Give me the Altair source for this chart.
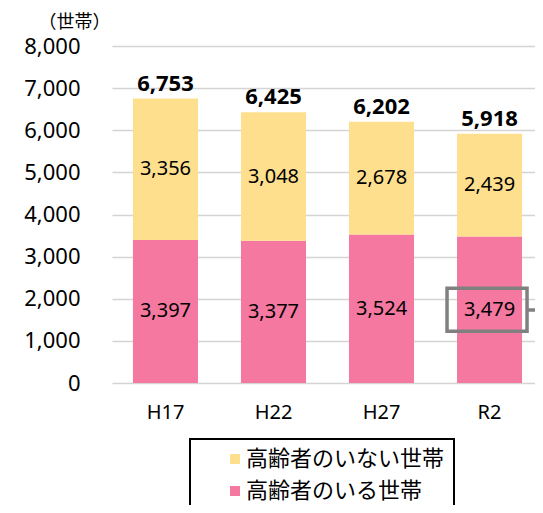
import altair as alt
import pandas as pd

years = ["H17", "H22", "H27", "R2"]
with_elderly = [3397, 3377, 3524, 3479]
without_elderly = [3356, 3048, 2678, 2439]
totals = [6753, 6425, 6202, 5918]
series_names = ["高齢者のいない世帯", "高齢者のいる世帯"]
series_colors = ["#FEDF8E", "#F478A0"]
y_ticks = [0, 1000, 2000, 3000, 4000, 5000, 6000, 7000, 8000]
highlight_year = ["R2"]
highlight_lo = [1230]
highlight_hi = [2250]
connector_value = [1733]

FONT = "Noto Sans, Noto Sans CJK JP"

rows = []
for i, yr in enumerate(years):
    rows.append({"year": yr, "series": series_names[1], "value": with_elderly[i], "order": 0})
    rows.append({"year": yr, "series": series_names[0], "value": without_elderly[i], "order": 1})
df = pd.DataFrame(rows)
tot_df = pd.DataFrame({"year": years, "total": totals})
hl_df = pd.DataFrame({"year": highlight_year, "lo": highlight_lo, "hi": highlight_hi})
conn_df = pd.DataFrame({"v": connector_value})

xscale = alt.Scale(domain=years, paddingInner=0.398, paddingOuter=0.157, align=0.618)
yscale = alt.Scale(domain=[0, 8000], nice=False)

x_axis = alt.Axis(title=None, labelAngle=0, labelFontSize=20, labelPadding=19,
                  ticks=False, domain=False, labelColor="#000", labelFont=FONT, grid=False)
y_axis = alt.Axis(values=y_ticks, format=",.0f", title="（世帯）", titleAngle=0,
                  titleAlign="left", titleBaseline="middle", titleX=-74, titleY=-24,
                  titleFontSize=18, titleFontWeight="normal", titleFont=FONT,
                  titleColor="#000",
                  labelFontSize=22, labelPadding=32, labelColor="#000", labelFont=FONT,
                  ticks=False, domain=False, gridColor="#d4d4d4", gridWidth=1.5)

def X():
    return alt.X("year:N", scale=xscale, sort=years, axis=x_axis)

def Y(field, **kw):
    return alt.Y(field, scale=yscale, axis=y_axis, **kw)

bars = alt.Chart(df).mark_bar().encode(
    x=X(),
    y=Y("value:Q", stack="zero"),
    color=alt.Color("series:N", scale=alt.Scale(domain=series_names, range=series_colors),
                    legend=alt.Legend(title=None, orient="none", legendX=78, legendY=393,
                                      strokeColor="#000", padding=9, symbolType="square",
                                      symbolSize=100, symbolStrokeWidth=0,
                                      labelFontSize=22, labelFont=FONT, labelColor="#000",
                                      labelLimit=400,
                                      rowPadding=10, symbolOffset=25, labelOffset=0,
                                      labelExpr="datum.label + '\u3000\u2002'")),
    order=alt.Order("order:Q"),
)

seg_labels = alt.Chart(df).transform_stack(
    stack="value", as_=["v0", "v1"], groupby=["year"], sort=[alt.SortField("order")]
).transform_calculate(mid="(datum.v0 + datum.v1) / 2").mark_text(
    fontSize=20, font=FONT, color="#000", baseline="middle"
).encode(
    x=X(),
    y=Y("mid:Q"),
    text=alt.Text("value:Q", format=","),
)

tot_labels = alt.Chart(tot_df).mark_text(
    fontSize=22, fontWeight="bold", font=FONT, color="#000", baseline="bottom", dy=-3
).encode(
    x=X(),
    y=Y("total:Q"),
    text=alt.Text("total:Q", format=","),
)

hl_box = alt.Chart(hl_df).mark_bar(
    filled=False, size=80, stroke="#808080", strokeWidth=3.5, xOffset=-2.5
).encode(
    x=X(),
    y=Y("lo:Q"),
    y2="hi:Q",
)

conn = alt.Chart(conn_df).mark_rule(stroke="#808080", strokeWidth=3.5).encode(
    x=alt.value(415), x2=alt.value(423),
    y=Y("v:Q"),
)

chart = alt.layer(bars, seg_labels, tot_labels, hl_box, conn).properties(
    width=423, height=337,
    autosize=alt.AutoSizeParams(type="none"),
    padding={"left": 104, "top": 38, "right": 0, "bottom": 122},
).configure_view(stroke=None).configure_legend(strokeWidth=2)

chart.save("out.html", embed_options={"renderer": "svg", "actions": False})
